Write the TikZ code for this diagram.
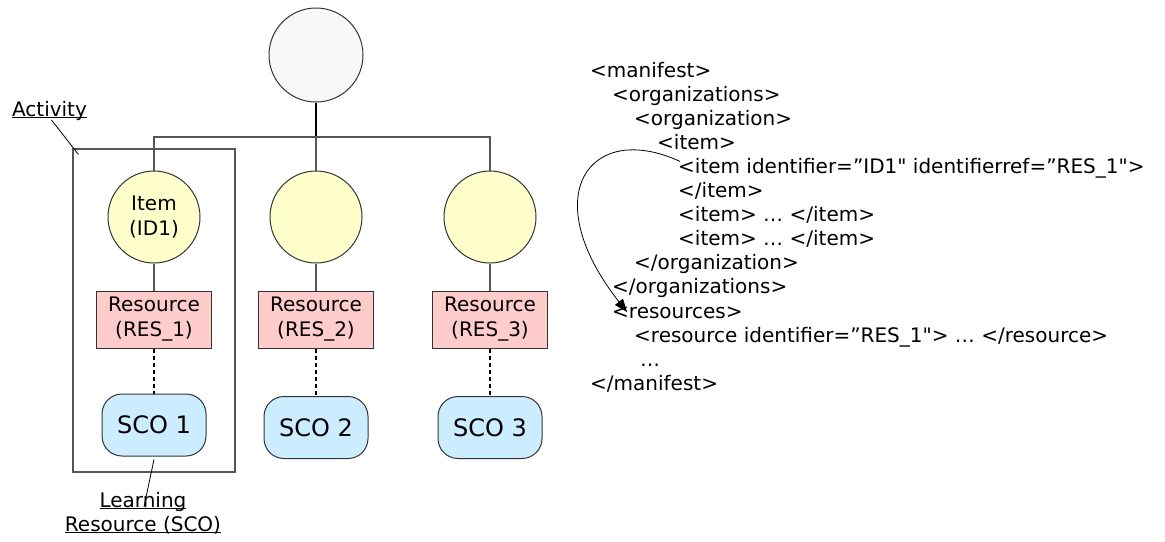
\documentclass[tikz,border=0pt]{standalone}
\usepackage{fontspec}
\setmainfont{DejaVu Sans}[Ligatures=TeXOff]
\usetikzlibrary{arrows.meta}
\definecolor{itemfill}{HTML}{FFFFCC}
\definecolor{resfill}{HTML}{FFCCCC}
\definecolor{scofill}{HTML}{CCECFF}
\definecolor{rootfill}{HTML}{F8F8F8}
\definecolor{edge}{HTML}{333333}
\definecolor{wirecol}{HTML}{555555}
\newcommand{\undl}[1]{\underline{\smash{#1}}}
\tikzset{
  rootnode/.style={circle, draw=edge, line width=1pt, fill=rootfill, minimum size=94pt, inner sep=0pt},
  itemnode/.style={circle, draw=edge, line width=1pt, fill=itemfill, minimum size=92pt, inner sep=0pt, align=center},
  resnode/.style={rectangle, draw=edge, line width=1pt, fill=resfill, minimum width=115pt, minimum height=57pt, inner sep=0pt, align=center},
  sconode/.style={rectangle, rounded corners=20pt, draw=edge, line width=1pt, fill=scofill, minimum width=104pt, minimum height=62pt, font=\fontsize{24}{28}\selectfont},
  wire/.style={draw=wirecol, line width=1.1pt},
  stem/.style={black, line width=2pt},
  dashwire/.style={black, line width=1.5pt, dash pattern=on 4pt off 3pt},
  pointer/.style={black, line width=0.8pt},
  xml/.style={anchor=base west, inner sep=0pt},
}

\begin{document}
\begin{tikzpicture}[x=1pt, y=-1pt, font=\fontsize{20}{25}\selectfont]
\useasboundingbox (0,0) rectangle (1165,541);
\node[draw=wirecol, line width=1.1pt, minimum width=162pt, minimum height=323pt, inner sep=0pt] (act) at (154,310.5) {};
\node[rootnode] (root) at (316,55) {};
\node[itemnode] (item1) at (154,217) {Item\\(ID1)};
\node[itemnode] (item2) at (316,217) {};
\node[itemnode] (item3) at (490,217) {};
\node[resnode] (res1) at (154,319.5) {Resource\\(RES\_1)};
\node[resnode] (res2) at (316,319.5) {Resource\\(RES\_2)};
\node[resnode] (res3) at (490,319.5) {Resource\\(RES\_3)};
\node[sconode] (sco1) at (154,425) {SCO 1};
\node[sconode] (sco2) at (316,427.5) {SCO 2};
\node[sconode] (sco3) at (490,427.5) {SCO 3};
\coordinate (bar) at (316,137);
\draw[stem] (root) -- (bar);
\draw[wire] (item1) |- (bar) -| (item3);
\draw[wire] (bar) -- (item2);
\draw[wire] (item1) -- (res1);
\draw[wire] (item2) -- (res2);
\draw[wire] (item3) -- (res3);
\draw[dashwire] (res1) -- (sco1);
\draw[dashwire] (res2) -- (sco2);
\draw[dashwire] (res3) -- (sco3);
\node[anchor=base, inner sep=0pt] (actlbl) at (49.5,116) {\undl{Activity}};
\node[align=center, inner sep=0pt, font=\fontsize{20}{24}\selectfont] (lrnlbl) at (143,520) {\undl{Learning}\\\undl{Resource (SCO)}};
\draw[pointer] ([shift={(2pt,-4pt)}]actlbl.base) -- ([shift={(6pt,-6pt)}]act.north west);
\draw[pointer] ([yshift=-3pt]sco1.south) -- ([xshift=1pt]lrnlbl.north);
\node[xml] (mfst) at (590,77) {<manifest>};
\node[xml] (orgs) at (612,101.1) {<organizations>};
\node[xml] (org) at (634,125.2) {<organization>};
\node[xml] (itm) at (657,149.3) {<item>};
\node[xml] (itmid) at (678,173.4) {<item identifier=”ID1" identifierref=”RES\_1">};
\node[xml] (itmend) at (678,197.5) {</item>};
\node[xml] (itma) at (678,221.6) {<item> … </item>};
\node[xml] (itmb) at (678,245.7) {<item> … </item>};
\node[xml] (orgend) at (634,269.8) {</organization>};
\node[xml] (orgsend) at (612,293.9) {</organizations>};
\node[xml] (rsrcs) at (612,318) {<resources>};
\node[xml] (rsrc) at (634,342.1) {<resource identifier=”RES\_1"> … </resource>};
\node[xml] (dots) at (640,366.2) {…};
\node[xml] (mfstend) at (590,390.3) {</manifest>};
\draw[pointer, -{Triangle[length=13pt,width=10pt]}] ([shift={(2pt,12pt)}]itmid.base west) .. controls (590,120) and (535,195) .. ([shift={(15pt,6pt)}]rsrcs.base west);
\end{tikzpicture}
\end{document}
